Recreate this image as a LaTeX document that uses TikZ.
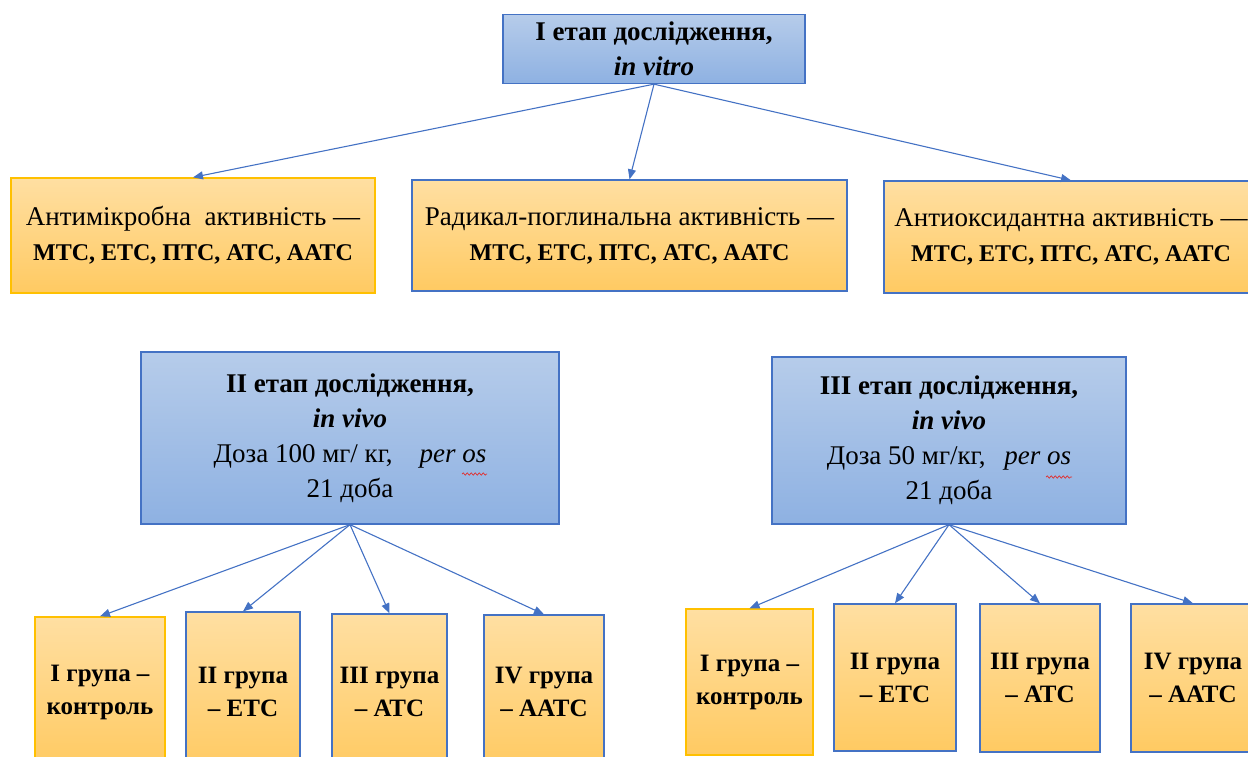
\documentclass[tikz,border=0pt]{standalone}
\usepackage{fontspec}
\setmainfont{Liberation Serif}
\usetikzlibrary{arrows.meta,decorations.pathmorphing}
\definecolor{bluetop}{HTML}{B6CCEA}
\definecolor{bluebot}{HTML}{8EB1E2}
\definecolor{ortop}{HTML}{FFDFA2}
\definecolor{orbot}{HTML}{FFCA62}
\definecolor{bord}{HTML}{4472C4}
\definecolor{goldb}{HTML}{FFC000}
\definecolor{arrowc}{HTML}{4472C4}
\definecolor{spell}{HTML}{E03030}
\newcommand{\mlist}{{\fontsize{24}{34}\selectfont\textbf{МТС, ЕТС, ПТС, АТС, ААТС}}}
\tikzset{
  x=1pt, y=-1pt,
  boxbase/.style={line width=1.3pt, align=center, inner sep=0pt, font=\fontsize{27}{35}\selectfont},
  bluebox/.style={boxbase, draw=bord, top color=bluetop, bottom color=bluebot},
  orbox/.style={boxbase, draw=bord, top color=ortop, bottom color=orbot},
  goldbox/.style={orbox, draw=goldb},
  grp/.style={font=\fontsize{25}{33}\selectfont\bfseries},
  arr/.style={draw=arrowc, line width=1.1pt, -{Triangle[length=10pt,width=8pt]}},
  sz/.style 2 args={minimum width=#1pt, minimum height=#2pt},
  wavy/.style={draw=spell, line width=0.7pt, decorate, decoration={snake, amplitude=1.2pt, segment length=4pt}},
}
\begin{document}
\begin{tikzpicture}
\useasboundingbox (0,0) rectangle (1248,756);
% top
\node[bluebox, sz={302}{69}] (top) at (654,49) {\textbf{I етап дослідження,}\\\textbf{\textit{in vitro}}};
% row 1
\node[goldbox, sz={364}{115}] (A) at (193,235.5) {Антимікробна\ \ активність —\\\mlist};
\node[orbox, sz={435}{111}] (B) at (629.5,235.5) {Радикал-поглинальна активність —\\\mlist};
\node[orbox, sz={374}{112}] (C) at (1071,237) {Антиоксидантна активність —\\\mlist};
% stage boxes
\node[bluebox, sz={418}{172}] (S2) at (350,438) {\textbf{II етап дослідження,}\\\textbf{\textit{in vivo}}\\Доза 100 мг/ кг,\hspace{1em}\textit{per os}\\21 доба};
\node[bluebox, sz={354}{167}] (S3) at (949,440.5) {\textbf{III етап дослідження,}\\\textbf{\textit{in vivo}}\\Доза 50 мг/кг,\hspace{0.7em}\textit{per os}\\21 доба};
% left groups
\node[goldbox, grp, sz={130}{150}] (L1) at (100,692) {I група –\\контроль};
\node[orbox, grp, sz={114}{160}] (L2) at (243,692) {II група\\– ЕТС};
\node[orbox, grp, sz={115}{156}] (L3) at (389.5,692) {III група\\– АТС};
\node[orbox, grp, sz={120}{154}] (L4) at (544,692) {IV група\\– ААТС};
% right groups
\node[goldbox, grp, sz={127}{146}] (R1) at (749.5,682) {I група –\\контроль};
\node[orbox, grp, sz={122}{147}] (R2) at (895,677.5) {II група\\– ЕТС};
\node[orbox, grp, sz={120}{148}] (R3) at (1040,678) {III група\\– АТС};
\node[orbox, grp, sz={124}{148}] (R4) at (1193,678) {IV група\\– ААТС};
% arrows
\draw[arr] (top.south) -- (A.north);
\draw[arr] (top.south) -- (B.north);
\draw[arr] (top.south) -- (C.north);
\foreach \n in {L1,L2,L3,L4} \draw[arr] (S2.south) -- (\n.north);
\foreach \n in {R1,R2,R3,R4} \draw[arr] (S3.south) -- (\n.north);
% spell-check marks under "os"
\draw[wavy] (462,474) -- (487,474);
\draw[wavy] (1046,477) -- (1072,477);
\end{tikzpicture}
\end{document}
